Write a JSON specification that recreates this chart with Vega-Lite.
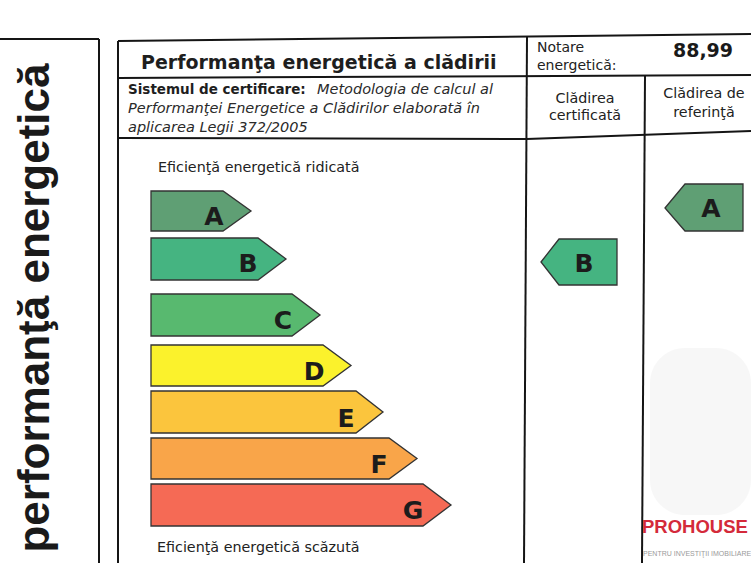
{
  "$schema": "https://vega.github.io/schema/vega-lite/v6.json",
  "width": 751,
  "height": 563,
  "autosize": {"type": "none"},
  "padding": 0,
  "background": "#ffffff",
  "config": {"view": {"stroke": null}},
  "datasets": {
    "frame": [
      {"x": 0, "y": 39, "x2": 99, "y2": 39},
      {"x": 99, "y": 39, "x2": 99, "y2": 563},
      {"x": 118, "y": 41, "x2": 118, "y2": 563},
      {"x": 118, "y": 41, "x2": 751, "y2": 34},
      {"x": 118, "y": 78, "x2": 751, "y2": 75},
      {"x": 118, "y": 138, "x2": 527, "y2": 139},
      {"x": 527, "y": 139, "x2": 751, "y2": 131},
      {"x": 527, "y": 37, "x2": 524, "y2": 563},
      {"x": 645, "y": 76, "x2": 642, "y2": 563}
    ],
    "arrows": [
      {"id": "A", "class": "A", "x": 151, "top": 191, "bottom": 231},
      {"id": "A", "class": "A", "x": 223, "top": 191, "bottom": 231},
      {"id": "A", "class": "A", "x": 251, "top": 211, "bottom": 211},
      {"id": "B", "class": "B", "x": 151, "top": 238, "bottom": 280},
      {"id": "B", "class": "B", "x": 258, "top": 238, "bottom": 280},
      {"id": "B", "class": "B", "x": 286, "top": 259, "bottom": 259},
      {"id": "C", "class": "C", "x": 151, "top": 294, "bottom": 336},
      {"id": "C", "class": "C", "x": 292, "top": 294, "bottom": 336},
      {"id": "C", "class": "C", "x": 320, "top": 315, "bottom": 315},
      {"id": "D", "class": "D", "x": 151, "top": 345, "bottom": 386},
      {"id": "D", "class": "D", "x": 323, "top": 345, "bottom": 386},
      {"id": "D", "class": "D", "x": 351, "top": 365.5, "bottom": 365.5},
      {"id": "E", "class": "E", "x": 151, "top": 391, "bottom": 433},
      {"id": "E", "class": "E", "x": 356, "top": 391, "bottom": 433},
      {"id": "E", "class": "E", "x": 383, "top": 412, "bottom": 412},
      {"id": "F", "class": "F", "x": 151, "top": 438, "bottom": 479},
      {"id": "F", "class": "F", "x": 389, "top": 438, "bottom": 479},
      {"id": "F", "class": "F", "x": 417, "top": 458.5, "bottom": 458.5},
      {"id": "G", "class": "G", "x": 151, "top": 484, "bottom": 526},
      {"id": "G", "class": "G", "x": 423, "top": 484, "bottom": 526},
      {"id": "G", "class": "G", "x": 451, "top": 505, "bottom": 505},
      {"id": "certificata", "class": "B", "x": 541, "top": 262, "bottom": 262},
      {"id": "certificata", "class": "B", "x": 559, "top": 239, "bottom": 285},
      {"id": "certificata", "class": "B", "x": 617, "top": 239, "bottom": 285},
      {"id": "referinta", "class": "A", "x": 665, "top": 208, "bottom": 208},
      {"id": "referinta", "class": "A", "x": 685, "top": 184, "bottom": 231},
      {"id": "referinta", "class": "A", "x": 743, "top": 184, "bottom": 231}
    ],
    "labels": [
      {"role": "title", "x": 141, "y": 69, "text": "Performanţa energetică a clădirii"},
      {"role": "scorelabel", "x": 537, "y": 52, "text": "Notare"},
      {"role": "scorelabel", "x": 537, "y": 70, "text": "energetică:"},
      {"role": "score", "x": 703, "y": 57, "text": "88,99"},
      {"role": "systembold", "x": 128, "y": 94, "text": "Sistemul de certificare:"},
      {"role": "systemtext", "x": 317, "y": 94, "text": "Metodologia de calcul al"},
      {"role": "systemtext", "x": 128, "y": 113, "text": "Performanţei Energetice a Clădirilor elaborată în"},
      {"role": "systemtext", "x": 128, "y": 132, "text": "aplicarea Legii 372/2005"},
      {"role": "column", "x": 585, "y": 103, "text": "Clădirea"},
      {"role": "column", "x": 585, "y": 120, "text": "certificată"},
      {"role": "column", "x": 704, "y": 98, "text": "Clădirea de"},
      {"role": "column", "x": 704, "y": 117, "text": "referinţă"},
      {"role": "note", "x": 158, "y": 172, "text": "Eficienţă energetică ridicată"},
      {"role": "note", "x": 157, "y": 552, "text": "Eficienţă energetică scăzută"},
      {"role": "class", "x": 214, "y": 225, "text": "A"},
      {"role": "class", "x": 248, "y": 272, "text": "B"},
      {"role": "class", "x": 283, "y": 329, "text": "C"},
      {"role": "class", "x": 314, "y": 380, "text": "D"},
      {"role": "class", "x": 346, "y": 427, "text": "E"},
      {"role": "class", "x": 379, "y": 473, "text": "F"},
      {"role": "class", "x": 413, "y": 519, "text": "G"},
      {"role": "class", "x": 584, "y": 272, "text": "B"},
      {"role": "class", "x": 711, "y": 217, "text": "A"},
      {"role": "side", "x": 49, "y": 308, "text": "performanţă energetică"},
      {"role": "brand", "x": 642, "y": 533, "text": "PROHOUSE"},
      {"role": "brandsub", "x": 643, "y": 556, "text": "PENTRU INVESTIŢII IMOBILIARE"}
    ],
    "cloud": [
      {"x": 650, "x2": 751, "y": 348, "y2": 515}
    ]
  },
  "layer": [
    {
      "data": {"name": "cloud"},
      "mark": {"type": "rect", "color": "#f0f0f0", "opacity": 0.55, "cornerRadius": 35},
      "encoding": {
        "x": {"field": "x", "type": "quantitative", "scale": {"domain": [0, 751], "nice": false, "zero": false}, "axis": null},
        "x2": {"field": "x2"},
        "y": {"field": "y", "type": "quantitative", "scale": {"domain": [0, 563], "nice": false, "zero": false, "reverse": true}, "axis": null},
        "y2": {"field": "y2"}
      }
    },
    {
      "data": {"name": "frame"},
      "mark": {"type": "rule", "color": "#151515", "strokeWidth": 2},
      "encoding": {
        "x": {"field": "x", "type": "quantitative", "scale": {"domain": [0, 751], "nice": false, "zero": false}, "axis": null},
        "x2": {"field": "x2"},
        "y": {"field": "y", "type": "quantitative", "scale": {"domain": [0, 563], "nice": false, "zero": false, "reverse": true}, "axis": null},
        "y2": {"field": "y2"}
      }
    },
    {
      "data": {"name": "arrows"},
      "mark": {"type": "area", "orient": "vertical", "stroke": "#333333", "strokeWidth": 1.3, "opacity": 1, "fillOpacity": 1},
      "encoding": {
        "x": {"field": "x", "type": "quantitative", "scale": {"domain": [0, 751], "nice": false, "zero": false}, "axis": null},
        "y": {"field": "top", "type": "quantitative", "stack": null, "scale": {"domain": [0, 563], "nice": false, "zero": false, "reverse": true}, "axis": null},
        "y2": {"field": "bottom"},
        "detail": {"field": "id"},
        "color": {
          "field": "class", "type": "nominal", "legend": null,
          "scale": {"domain": ["A", "B", "C", "D", "E", "F", "G"], "range": ["#5f9f74", "#45b481", "#58b96f", "#fbf22c", "#fbc53d", "#f9a549", "#f56a55"]}
        }
      }
    },
    {
      "data": {"name": "labels"},
      "transform": [{"filter": "datum.role === 'title'"}],
      "mark": {"type": "text", "align": "left", "baseline": "alphabetic", "font": "DejaVu Sans", "fontWeight": "bold", "fontSize": 19, "color": "#1e1e1e"},
      "encoding": {
        "x": {"field": "x", "type": "quantitative", "scale": {"domain": [0, 751], "nice": false, "zero": false}, "axis": null},
        "y": {"field": "y", "type": "quantitative", "scale": {"domain": [0, 563], "nice": false, "zero": false, "reverse": true}, "axis": null},
        "text": {"field": "text"}
      }
    },
    {
      "data": {"name": "labels"},
      "transform": [{"filter": "datum.role === 'scorelabel'"}],
      "mark": {"type": "text", "align": "left", "baseline": "alphabetic", "font": "DejaVu Sans", "fontSize": 14, "color": "#222222"},
      "encoding": {
        "x": {"field": "x", "type": "quantitative", "scale": {"domain": [0, 751], "nice": false, "zero": false}, "axis": null},
        "y": {"field": "y", "type": "quantitative", "scale": {"domain": [0, 563], "nice": false, "zero": false, "reverse": true}, "axis": null},
        "text": {"field": "text"}
      }
    },
    {
      "data": {"name": "labels"},
      "transform": [{"filter": "datum.role === 'score'"}],
      "mark": {"type": "text", "align": "center", "baseline": "alphabetic", "font": "DejaVu Sans", "fontWeight": "bold", "fontSize": 19, "color": "#1a1a1a"},
      "encoding": {
        "x": {"field": "x", "type": "quantitative", "scale": {"domain": [0, 751], "nice": false, "zero": false}, "axis": null},
        "y": {"field": "y", "type": "quantitative", "scale": {"domain": [0, 563], "nice": false, "zero": false, "reverse": true}, "axis": null},
        "text": {"field": "text"}
      }
    },
    {
      "data": {"name": "labels"},
      "transform": [{"filter": "datum.role === 'systembold'"}],
      "mark": {"type": "text", "align": "left", "baseline": "alphabetic", "font": "DejaVu Sans", "fontWeight": "bold", "fontSize": 13.5, "color": "#1e1e1e"},
      "encoding": {
        "x": {"field": "x", "type": "quantitative", "scale": {"domain": [0, 751], "nice": false, "zero": false}, "axis": null},
        "y": {"field": "y", "type": "quantitative", "scale": {"domain": [0, 563], "nice": false, "zero": false, "reverse": true}, "axis": null},
        "text": {"field": "text"}
      }
    },
    {
      "data": {"name": "labels"},
      "transform": [{"filter": "datum.role === 'systemtext'"}],
      "mark": {"type": "text", "align": "left", "baseline": "alphabetic", "font": "DejaVu Sans", "fontStyle": "italic", "fontSize": 14.5, "color": "#2a2a2a"},
      "encoding": {
        "x": {"field": "x", "type": "quantitative", "scale": {"domain": [0, 751], "nice": false, "zero": false}, "axis": null},
        "y": {"field": "y", "type": "quantitative", "scale": {"domain": [0, 563], "nice": false, "zero": false, "reverse": true}, "axis": null},
        "text": {"field": "text"}
      }
    },
    {
      "data": {"name": "labels"},
      "transform": [{"filter": "datum.role === 'column'"}],
      "mark": {"type": "text", "align": "center", "baseline": "alphabetic", "font": "DejaVu Sans", "fontSize": 14.3, "color": "#222222"},
      "encoding": {
        "x": {"field": "x", "type": "quantitative", "scale": {"domain": [0, 751], "nice": false, "zero": false}, "axis": null},
        "y": {"field": "y", "type": "quantitative", "scale": {"domain": [0, 563], "nice": false, "zero": false, "reverse": true}, "axis": null},
        "text": {"field": "text"}
      }
    },
    {
      "data": {"name": "labels"},
      "transform": [{"filter": "datum.role === 'note'"}],
      "mark": {"type": "text", "align": "left", "baseline": "alphabetic", "font": "DejaVu Sans", "fontSize": 14.3, "color": "#222222"},
      "encoding": {
        "x": {"field": "x", "type": "quantitative", "scale": {"domain": [0, 751], "nice": false, "zero": false}, "axis": null},
        "y": {"field": "y", "type": "quantitative", "scale": {"domain": [0, 563], "nice": false, "zero": false, "reverse": true}, "axis": null},
        "text": {"field": "text"}
      }
    },
    {
      "data": {"name": "labels"},
      "transform": [{"filter": "datum.role === 'class'"}],
      "mark": {"type": "text", "align": "center", "baseline": "alphabetic", "font": "DejaVu Sans", "fontWeight": "bold", "fontSize": 25, "color": "#1c1c1c"},
      "encoding": {
        "x": {"field": "x", "type": "quantitative", "scale": {"domain": [0, 751], "nice": false, "zero": false}, "axis": null},
        "y": {"field": "y", "type": "quantitative", "scale": {"domain": [0, 563], "nice": false, "zero": false, "reverse": true}, "axis": null},
        "text": {"field": "text"}
      }
    },
    {
      "data": {"name": "labels"},
      "transform": [{"filter": "datum.role === 'side'"}],
      "mark": {"type": "text", "align": "center", "baseline": "alphabetic", "angle": 270, "font": "Liberation Sans", "fontWeight": "bold", "fontSize": 44, "color": "#1a1a1a"},
      "encoding": {
        "x": {"field": "x", "type": "quantitative", "scale": {"domain": [0, 751], "nice": false, "zero": false}, "axis": null},
        "y": {"field": "y", "type": "quantitative", "scale": {"domain": [0, 563], "nice": false, "zero": false, "reverse": true}, "axis": null},
        "text": {"field": "text"}
      }
    },
    {
      "data": {"name": "labels"},
      "transform": [{"filter": "datum.role === 'brand'"}],
      "mark": {"type": "text", "align": "left", "baseline": "alphabetic", "font": "Liberation Sans", "fontWeight": "bold", "fontSize": 18.5, "color": "#d42a3a"},
      "encoding": {
        "x": {"field": "x", "type": "quantitative", "scale": {"domain": [0, 751], "nice": false, "zero": false}, "axis": null},
        "y": {"field": "y", "type": "quantitative", "scale": {"domain": [0, 563], "nice": false, "zero": false, "reverse": true}, "axis": null},
        "text": {"field": "text"}
      }
    },
    {
      "data": {"name": "labels"},
      "transform": [{"filter": "datum.role === 'brandsub'"}],
      "mark": {"type": "text", "align": "left", "baseline": "alphabetic", "font": "Liberation Sans", "fontSize": 7, "color": "#9a9a9a"},
      "encoding": {
        "x": {"field": "x", "type": "quantitative", "scale": {"domain": [0, 751], "nice": false, "zero": false}, "axis": null},
        "y": {"field": "y", "type": "quantitative", "scale": {"domain": [0, 563], "nice": false, "zero": false, "reverse": true}, "axis": null},
        "text": {"field": "text"}
      }
    }
  ]
}
